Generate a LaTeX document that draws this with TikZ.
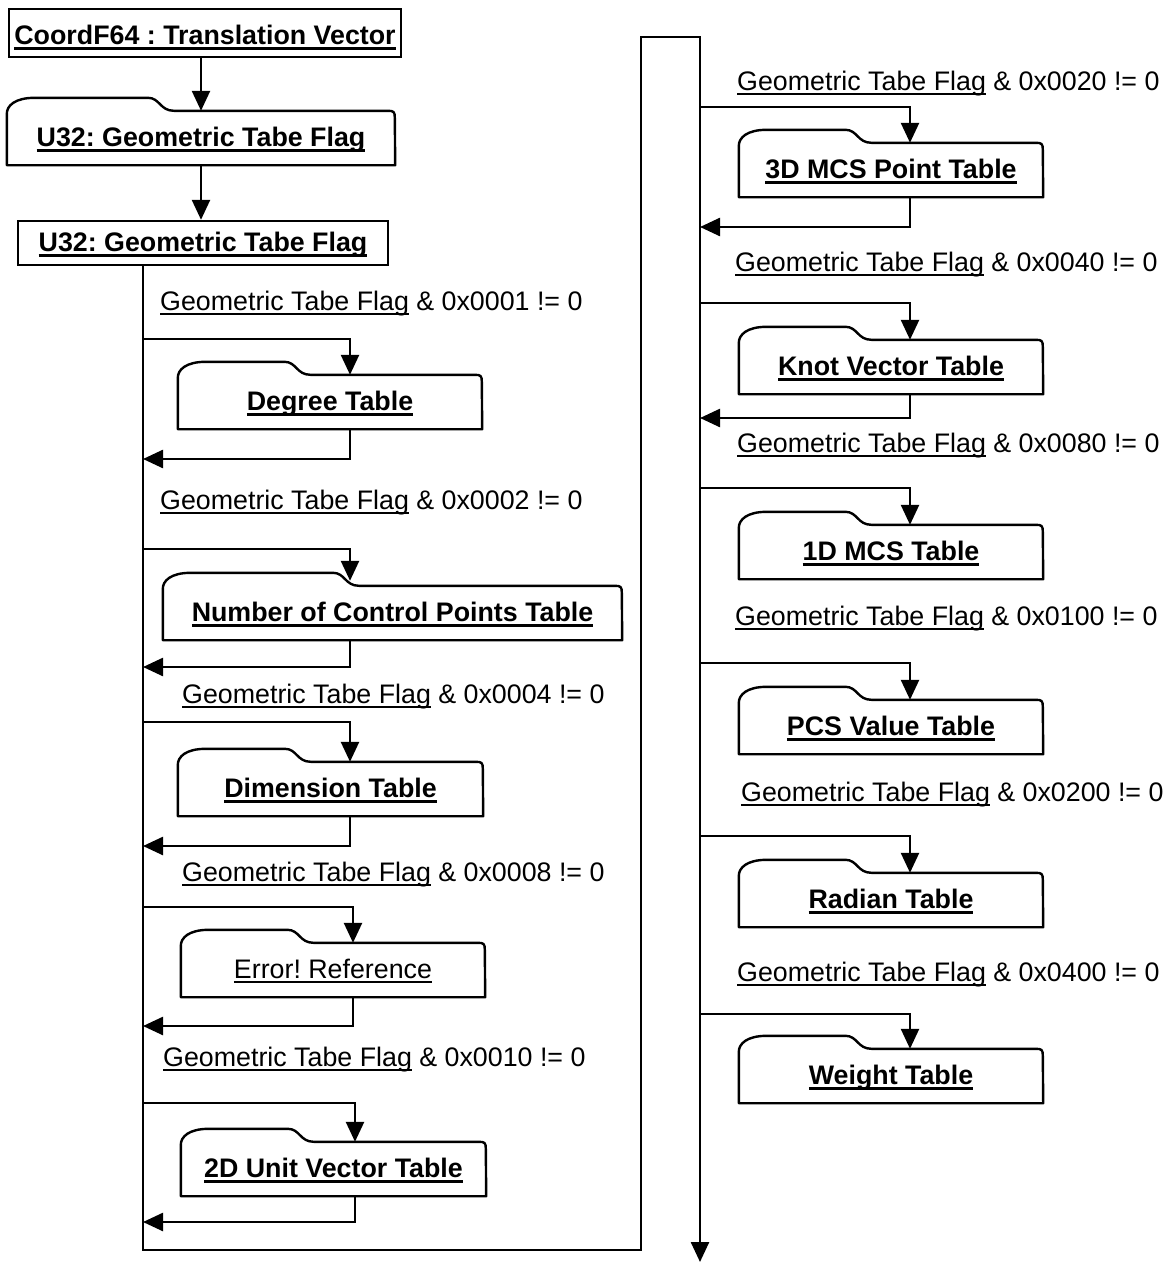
\documentclass[tikz,border=0pt]{standalone}
\usepackage{fontspec}
\setmainfont{Liberation Sans}
\usetikzlibrary{arrows.meta}

\newcommand\bigfont{\fontsize{26.8}{30}\selectfont\frenchspacing}
% underlined text: rule at a fixed distance below the baseline
\newcommand\ulplain[1]{\setbox0=\hbox{#1}\rlap{\rule[-0.15em]{\wd0}{0.06em}}\box0\relax}
\newcommand\ulbold[1]{\setbox0=\hbox{\bfseries #1}\rlap{\rule[-0.21em]{\wd0}{0.1em}}\box0\relax}

\tikzset{
  conn/.style={line width=2.5pt},
  arr/.style={conn, -{Triangle[length=20pt,width=18pt]}},
  boxline/.style={line width=2.4pt, line join=round},
  rectbox/.style={draw, line width=2.4pt, inner sep=0pt, text height=19pt, text depth=2pt, font=\bigfont},
  tabbox/.style={minimum height=54pt, inner sep=0pt, text height=19pt, text depth=2pt, font=\bigfont},
  flag/.style={anchor=base west, inner sep=0pt, font=\bigfont},
}

% outline of a table box: the node is the main body, a tab rises over its left part
\newcommand\tabframe[2]{%
  \pgfmathsetmacro\tabend{0.41*#2}%
  \begin{scope}[shift={(#1.north west)}]
    \draw[boxline] (#1.south west) -- (0,3)
      .. controls (0,-5) and (8,-13) .. (28,-13)
      -- (\tabend-18,-13)
      .. controls (\tabend-6,-13) and (\tabend-6,0) .. (\tabend+8,0)
      -- (#2-7,0) .. controls (#2-1,0) and (#2,1) .. (#2,7)
      -- (#1.south east) -- cycle;
  \end{scope}}

\begin{document}
\begin{tikzpicture}[x=1pt, y=-1pt]
\useasboundingbox (0,0) rectangle (1167,1263);

% ---- header records ----
\node[rectbox, minimum width=392pt, minimum height=48pt, text height=23pt, text depth=0pt] (tv) at (205,33) {\ulbold{CoordF64 : Translation Vector}};
\node[tabbox, minimum width=388pt] (gf1) at (201,138) {\ulbold{U32: Geometric Tabe Flag}};
\tabframe{gf1}{388}
\node[rectbox, minimum width=370pt, minimum height=44pt] (gf2) at (203,243) {\ulbold{U32: Geometric Tabe Flag}};

\draw[arr] (tv.south -| gf1.north) -- (gf1.north);
\draw[arr] (gf1.south) -- (gf1.south |- gf2.north);

% ---- main flow line ----
\coordinate (tl) at (143,1250);
\coordinate (tr) at (641,1250);
\coordinate (tt) at (641,37);
\coordinate (tR) at (700,37);
\coordinate (out) at (700,1262);
\draw[arr] (gf2.south -| tl) -- (tl) -- (tr) -- (tt) -- (tR) -- (out);

% ---- left column tables ----
\node[flag] (l1) at (160,310.5) {\ulplain{Geometric Tabe Flag} \& 0x0001 != 0};
\node[tabbox, minimum width=304pt] (deg) at (330,402) {\ulbold{Degree Table}};
\tabframe{deg}{304}
\coordinate (j1) at (143,339);
\coordinate (r1) at (143,459);
\draw[arr] (j1) -| ([xshift=20pt]deg.north);
\draw[arr] ([xshift=20pt]deg.south) |- (r1);

\node[flag] (l2) at (160,509.5) {\ulplain{Geometric Tabe Flag} \& 0x0002 != 0};
\node[tabbox, minimum width=459pt] (ncp) at (392.5,613) {\ulbold{Number of Control Points Table}};
\tabframe{ncp}{459}
\coordinate (j2) at (143,549);
\coordinate (r2) at (143,667);
\draw[arr] (j2) -| ([xshift=-42.5pt,yshift=5pt]ncp.north);
\draw[arr] ([xshift=-42.5pt]ncp.south) |- (r2);

\node[flag] (l3) at (182,703.5) {\ulplain{Geometric Tabe Flag} \& 0x0004 != 0};
\node[tabbox, minimum width=305pt] (dim) at (330.5,789) {\ulbold{Dimension Table}};
\tabframe{dim}{305}
\coordinate (j3) at (143,722);
\coordinate (r3) at (143,846);
\draw[arr] (j3) -| ([xshift=19.5pt]dim.north);
\draw[arr] ([xshift=19.5pt]dim.south) |- (r3);

\node[flag] (l4) at (182,881.5) {\ulplain{Geometric Tabe Flag} \& 0x0008 != 0};
\node[tabbox, minimum width=304pt] (err) at (333,970) {\ulplain{Error! Reference}};
\tabframe{err}{304}
\coordinate (j4) at (143,907);
\coordinate (r4) at (143,1026);
\draw[arr] (j4) -| ([xshift=20pt]err.north);
\draw[arr] ([xshift=20pt]err.south) |- (r4);

\node[flag] (l5) at (163,1066.5) {\ulplain{Geometric Tabe Flag} \& 0x0010 != 0};
\node[tabbox, minimum width=305pt] (uv) at (333.5,1169) {\ulbold{2D Unit Vector Table}};
\tabframe{uv}{305}
\coordinate (j5) at (143,1103);
\coordinate (r5) at (143,1222);
\draw[arr] (j5) -| ([xshift=21.5pt]uv.north);
\draw[arr] ([xshift=21.5pt]uv.south) |- (r5);

% ---- right column tables ----
\node[flag] (m1) at (737,90.5) {\ulplain{Geometric Tabe Flag} \& 0x0020 != 0};
\node[tabbox, minimum width=304pt] (mcs3) at (891,170) {\ulbold{3D MCS Point Table}};
\tabframe{mcs3}{304}
\coordinate (k1) at (700,107);
\coordinate (s1) at (700,227);
\draw[arr] (k1) -| ([xshift=19pt]mcs3.north);
\draw[arr] ([xshift=19pt]mcs3.south) |- (s1);

\node[flag] (m2) at (735,271.5) {\ulplain{Geometric Tabe Flag} \& 0x0040 != 0};
\node[tabbox, minimum width=304pt] (knot) at (891,367) {\ulbold{Knot Vector Table}};
\tabframe{knot}{304}
\coordinate (k2) at (700,303);
\coordinate (s2) at (700,418);
\draw[arr] (k2) -| ([xshift=19pt]knot.north);
\draw[arr] ([xshift=19pt]knot.south) |- (s2);

\node[flag] (m3) at (737,452.5) {\ulplain{Geometric Tabe Flag} \& 0x0080 != 0};
\node[tabbox, minimum width=304pt] (mcs1) at (891,552) {\ulbold{1D MCS Table}};
\tabframe{mcs1}{304}
\coordinate (k3) at (700,488);
\draw[arr] (k3) -| ([xshift=19pt]mcs1.north);

\node[flag] (m4) at (735,625.5) {\ulplain{Geometric Tabe Flag} \& 0x0100 != 0};
\node[tabbox, minimum width=304pt] (pcs) at (891,727) {\ulbold{PCS Value Table}};
\tabframe{pcs}{304}
\coordinate (k4) at (700,663);
\draw[arr] (k4) -| ([xshift=19pt]pcs.north);

\node[flag] (m5) at (741,801.5) {\ulplain{Geometric Tabe Flag} \& 0x0200 != 0};
\node[tabbox, minimum width=304pt] (rad) at (891,900) {\ulbold{Radian Table}};
\tabframe{rad}{304}
\coordinate (k5) at (700,836);
\draw[arr] (k5) -| ([xshift=19pt]rad.north);

\node[flag] (m6) at (737,981.5) {\ulplain{Geometric Tabe Flag} \& 0x0400 != 0};
\node[tabbox, minimum width=304pt] (wt) at (891,1076) {\ulbold{Weight Table}};
\tabframe{wt}{304}
\coordinate (k6) at (700,1014);
\draw[arr] (k6) -| ([xshift=19pt]wt.north);
\end{tikzpicture}
\end{document}
